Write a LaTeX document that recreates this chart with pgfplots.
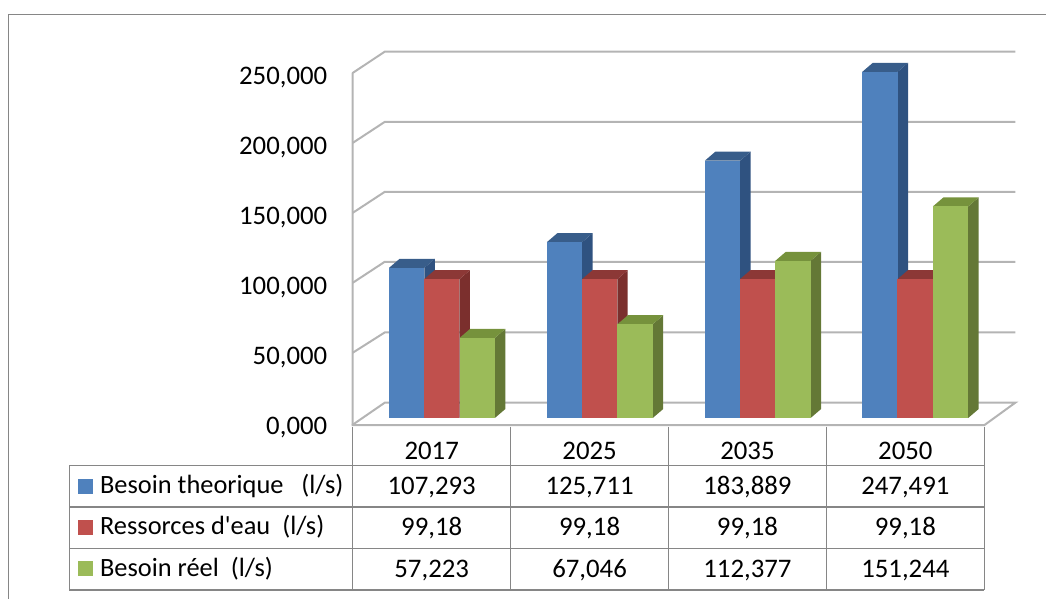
\documentclass[border=0pt]{standalone}
\usepackage{fontspec}
\newfontfamily\plainfont{Carlito}
\usepackage{pgfplots}
\pgfplotsset{compat=1.18}
\definecolor{wall}{HTML}{B4B4B4}
\definecolor{tbl}{HTML}{868686}
\definecolor{bf}{HTML}{4F81BD}\definecolor{bt}{HTML}{385D8A}\definecolor{bs}{HTML}{2F5280}
\definecolor{rf}{HTML}{C0504D}\definecolor{rt}{HTML}{8C3836}\definecolor{rs}{HTML}{7B2F2D}
\definecolor{gf}{HTML}{9BBB59}\definecolor{gt}{HTML}{76923C}\definecolor{gs}{HTML}{647836}
\def\Y#1{{298.7857-#1/1.4}}
\newcommand\fs{\plainfont\fontsize{26.8}{30}\selectfont}
\newcommand\fl{\plainfont\fontsize{26.4}{30}\selectfont}
% left edge of the bar, value, front, top and side colours
\newcommand\threedbar[5]{%
  \pgfmathsetmacro\xc{#1+17.65}%
  \pgfmathsetmacro\xb{#1+35.3}%
  \pgfmathsetmacro\xd{#1+45.8}%
  \pgfmathsetmacro\xt{#1+10.5}%
  \pgfmathsetmacro\vt{#2+6.43}%
  \addplot[draw=none,fill=#5] coordinates {(\xb,0) (\xd,6.43) (\xd,\vt) (\xb,#2)};
  \addplot[draw=none,fill=#4] coordinates {(#1,#2) (\xt,\vt) (\xd,\vt) (\xb,#2)};
  \addplot[ybar,bar width=35.3pt,bar shift=0pt,draw=none,fill=#3] coordinates {(\xc,#2)};
}
\begin{document}
\begin{tikzpicture}
\begin{axis}[
  scale only axis, width=632pt, height=374pt,
  xmin=353, xmax=985, ymin=-4.786, ymax=262.36,
  clip=false,
  axis x line=bottom, axis y line=left,
  axis line style={draw=none},
  major tick length=0pt,
  tick style={draw=none},
  xtick={432,590,748,906},
  xticklabels={2017,2025,2035,2050},
  ytick={0,50,100,150,200,250},
  yticklabels={{0,000},{50,000},{100,000},{150,000},{200,000},{250,000}},
  tick label style={font=\fs},
  x tick label style={anchor=base,yshift=-35pt},
  y tick label style={anchor=east,xshift=-22pt,yshift=-9.5pt},
]
% page
\path (0,\Y{599}) rectangle (1047,\Y{0});
\draw[tbl,line width=1.5pt] (8.5,\Y{599}) -- (8.5,\Y{14.7}) -- (1047,\Y{14.7});
% walls
\draw[wall,line width=2pt,line join=round] (353,\Y{425}) -- (353,\Y{73}) -- (385,\Y{51.7}) -- (1016,\Y{51.7});
\draw[wall,line width=2pt] (353,\Y{143}) -- (385,\Y{122}) -- (1016,\Y{122});
\draw[wall,line width=2pt] (353,\Y{213}) -- (385,\Y{192}) -- (1016,\Y{192});
\draw[wall,line width=2pt] (353,\Y{283}) -- (385,\Y{262}) -- (1016,\Y{262});
\draw[wall,line width=2pt] (353,\Y{353}) -- (385,\Y{332.7}) -- (1016,\Y{332.7});
\draw[wall,line width=2pt] (353,\Y{425}) -- (385,\Y{403}) -- (1016,\Y{403}) -- (985,\Y{425.5}) -- (353,\Y{425.5}) -- cycle;
% 2017
\threedbar{389.3}{107.293}{bf}{bt}{bs}
\threedbar{424.4}{99.18}{rf}{rt}{rs}
\threedbar{459.9}{57.223}{gf}{gt}{gs}
% 2025
\threedbar{547.3}{125.711}{bf}{bt}{bs}
\threedbar{582.4}{99.18}{rf}{rt}{rs}
\threedbar{617.9}{67.046}{gf}{gt}{gs}
% 2035
\threedbar{705.3}{183.889}{bf}{bt}{bs}
\threedbar{740.4}{99.18}{rf}{rt}{rs}
\threedbar{775.9}{112.377}{gf}{gt}{gs}
% 2050
\threedbar{863.0}{247.491}{bf}{bt}{bs}
\threedbar{898.1}{99.18}{rf}{rt}{rs}
\threedbar{933.6}{151.244}{gf}{gt}{gs}
% data table
\draw[tbl,line width=1.5pt] (353,\Y{427}) -- (353,\Y{590.5});
\draw[tbl,line width=1.5pt] (511,\Y{427}) -- (511,\Y{590.5});
\draw[tbl,line width=1.5pt] (669,\Y{427}) -- (669,\Y{590.5});
\draw[tbl,line width=1.5pt] (827,\Y{427}) -- (827,\Y{590.5});
\draw[tbl,line width=1.5pt] (985,\Y{427}) -- (985,\Y{590.5});
\draw[tbl,line width=1.5pt] (69.5,\Y{466}) -- (985,\Y{466});
\draw[tbl,line width=1.5pt] (69.5,\Y{507.5}) -- (985,\Y{507.5});
\draw[tbl,line width=1.5pt] (69.5,\Y{549}) -- (985,\Y{549});
\draw[tbl,line width=1.5pt] (69.5,\Y{466}) -- (69.5,\Y{590.5}) -- (985,\Y{590.5});
\fill[bf] (78,\Y{479.3}) rectangle (93,\Y{494});
\fill[rf] (78,\Y{520}) rectangle (93,\Y{535});
\fill[gf] (78,\Y{561.7}) rectangle (93,\Y{576.7});
\node[anchor=base west,inner sep=0pt,font=\fl] at (100,\Y{494}) {Besoin theorique\ \ \ (l/s)};
\node[anchor=base west,inner sep=0pt,font=\fl] at (100,\Y{535}) {Ressorces d'eau\ \ (l/s)};
\node[anchor=base west,inner sep=0pt,font=\fl] at (100,\Y{576.7}) {Besoin réel\ \ (l/s)};
\node[anchor=base,inner sep=0pt,font=\fs] at (432,\Y{495}) {107,293};
\node[anchor=base,inner sep=0pt,font=\fs] at (590,\Y{495}) {125,711};
\node[anchor=base,inner sep=0pt,font=\fs] at (748,\Y{495}) {183,889};
\node[anchor=base,inner sep=0pt,font=\fs] at (906,\Y{495}) {247,491};
\node[anchor=base,inner sep=0pt,font=\fs] at (432,\Y{536}) {99,18};
\node[anchor=base,inner sep=0pt,font=\fs] at (590,\Y{536}) {99,18};
\node[anchor=base,inner sep=0pt,font=\fs] at (748,\Y{536}) {99,18};
\node[anchor=base,inner sep=0pt,font=\fs] at (906,\Y{536}) {99,18};
\node[anchor=base,inner sep=0pt,font=\fs] at (432,\Y{578}) {57,223};
\node[anchor=base,inner sep=0pt,font=\fs] at (590,\Y{578}) {67,046};
\node[anchor=base,inner sep=0pt,font=\fs] at (748,\Y{578}) {112,377};
\node[anchor=base,inner sep=0pt,font=\fs] at (906,\Y{578}) {151,244};
\end{axis}
\end{tikzpicture}
\end{document}
